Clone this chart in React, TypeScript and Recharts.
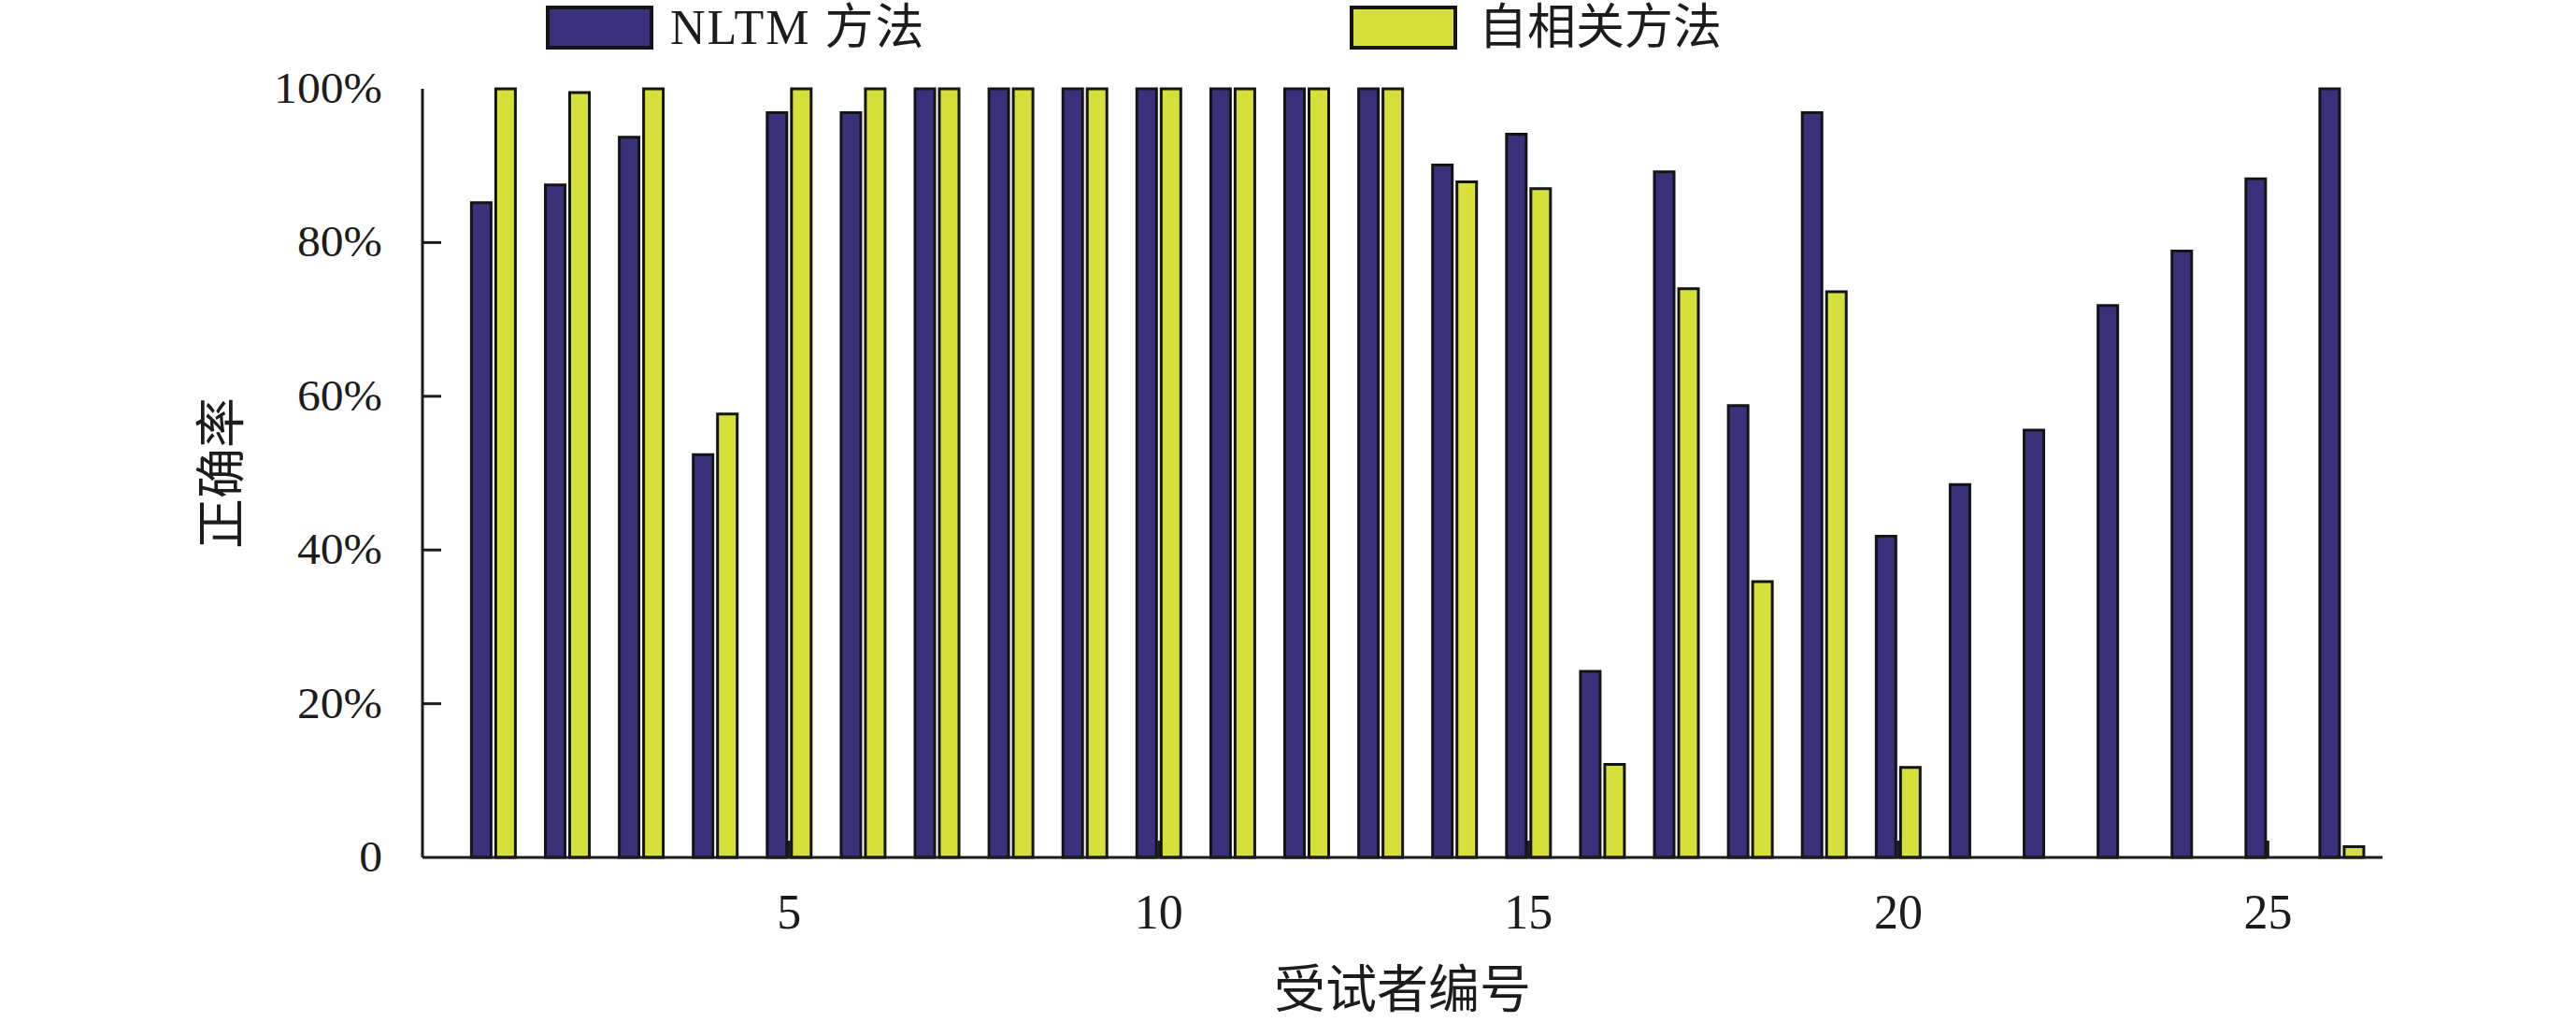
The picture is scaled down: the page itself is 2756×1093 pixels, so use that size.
import { BarChart, Bar, XAxis, YAxis, Legend, Label } from 'recharts';

// subject ids and accuracy (%) per method
const subjects = [1, 2, 3, 4, 5, 6, 7, 8, 9, 10, 11, 12, 13, 14, 15, 16, 17, 18, 19, 20, 21, 22, 23, 24, 25, 26];
const nltm = [85.2, 87.5, 93.7, 52.4, 96.9, 96.9, 100, 100, 100, 100, 100, 100, 100, 90.1, 94.1, 24.2, 89.2, 58.8, 96.9, 41.8, 48.5, 55.6, 71.8, 78.9, 88.3, 100];
const autocorr = [100, 99.5, 100, 57.7, 100, 100, 100, 100, 100, 100, 100, 100, 100, 87.9, 87.0, 12.1, 74.0, 35.9, 73.6, 11.7, 0, 0, 0, 0, 0, 1.4];

const seriesNames = ['NLTM 方法', '自相关方法'];
const xTicks = [5, 10, 15, 20, 25];
const yTicks = [0, 20, 40, 60, 80, 100];
const xTitle = '受试者编号';
const yTitle = '正确率';

const BLUE = '#3a317b';
const YELLOW = '#d5e03b';
const INK = '#1c1c1c';
const SERIF = "'Liberation Serif', 'Noto Sans CJK SC', serif";
const CJK = "'Noto Sans CJK SC', sans-serif";

const data = subjects.map((id, i) => ({ id, nltm: nltm[i], autocorr: autocorr[i] }));

function XTick({ x, y, payload }: any) {
  return (
    <g>
      <line x1={x} x2={x} y1={y} y2={y - 18} stroke={INK} strokeWidth={3} />
      <text x={x} y={y + 76} textAnchor="middle" fontFamily={SERIF} fontSize={52} fill={INK}>
        {payload.value}
      </text>
    </g>
  );
}

function YTick({ x, y, payload }: any) {
  const v = payload.value;
  return (
    <g>
      {v !== 0 && v !== 100 && <line x1={x} x2={x + 20} y1={y} y2={y} stroke={INK} strokeWidth={3} />}
      <text
        transform={`translate(${x - 43},${y + 15}) scale(1.08,1)`}
        textAnchor="end"
        fontFamily={SERIF}
        fontSize={46}
        fill={INK}
      >
        {v === 0 ? '0' : `${v}%`}
      </text>
    </g>
  );
}

// legend boxes sit at fixed spots above the plot, like the original figure
const legendSpots = [
  { box: 586, text: 717, spacing: 2 },
  { box: 1446, text: 1582, spacing: 0 },
];

function LegendContent({ payload }: any) {
  const items = payload || [];
  return (
    <svg width={2756} height={60}>
      {items.map((p: any, i: number) => (
        <g key={p.value}>
          <rect x={legendSpots[i].box} y={8} width={111} height={43} fill={p.color} stroke="#151515" strokeWidth={4} />
          <text
            x={legendSpots[i].text}
            y={47}
            fontFamily={SERIF}
            fontSize={52}
            letterSpacing={legendSpots[i].spacing}
            fill={INK}
          >
            {p.value}
          </text>
        </g>
      ))}
    </svg>
  );
}

export default function App() {
  return (
    <div style={{ position: 'absolute', left: 0, top: 0, background: '#fff' }}>
      <BarChart
        width={2756}
        height={1093}
        data={data}
        margin={{ top: 95, right: 207, bottom: 0, left: 0 }}
        barGap={5}
      >
        <XAxis
          dataKey="id"
          type="number"
          domain={[0.04, 26.55]}
          allowDataOverflow
          ticks={xTicks}
          interval={0}
          height={176}
          tickSize={0}
          tickMargin={0}
          tickLine={false}
          axisLine={{ stroke: INK, strokeWidth: 3 }}
          tick={<XTick />}
        >
          <Label
            content={({ viewBox }: any) => (
              <text
                x={viewBox.x + viewBox.width / 2}
                y={viewBox.y + 160}
                textAnchor="middle"
                fontFamily={CJK}
                fontSize={55}
                fill={INK}
              >
                {xTitle}
              </text>
            )}
          />
        </XAxis>
        <YAxis
          type="number"
          domain={[0, 100]}
          ticks={yTicks}
          interval={0}
          width={452}
          tickSize={0}
          tickMargin={0}
          tickLine={false}
          axisLine={{ stroke: INK, strokeWidth: 3 }}
          tick={<YTick />}
        >
          <Label
            content={({ viewBox }: any) => {
              const cy = viewBox.y + viewBox.height / 2;
              return (
                <text
                  transform={`translate(232,${cy}) rotate(-90)`}
                  textAnchor="middle"
                  dominantBaseline="central"
                  fontFamily={CJK}
                  fontSize={54}
                  fill={INK}
                >
                  {yTitle}
                </text>
              );
            }}
          />
        </YAxis>
        <Legend
          layout="horizontal"
          verticalAlign="middle"
          align="center"
          wrapperStyle={{ position: 'absolute', left: 0, top: 0, width: 2756, height: 60 }}
          content={<LegendContent />}
        />
        <Bar dataKey="nltm" name={seriesNames[0]} fill={BLUE} stroke="#141414" strokeWidth={3} barSize={21} isAnimationActive={false} />
        <Bar dataKey="autocorr" name={seriesNames[1]} fill={YELLOW} stroke="#141414" strokeWidth={3} barSize={21} isAnimationActive={false} />
      </BarChart>
    </div>
  );
}
